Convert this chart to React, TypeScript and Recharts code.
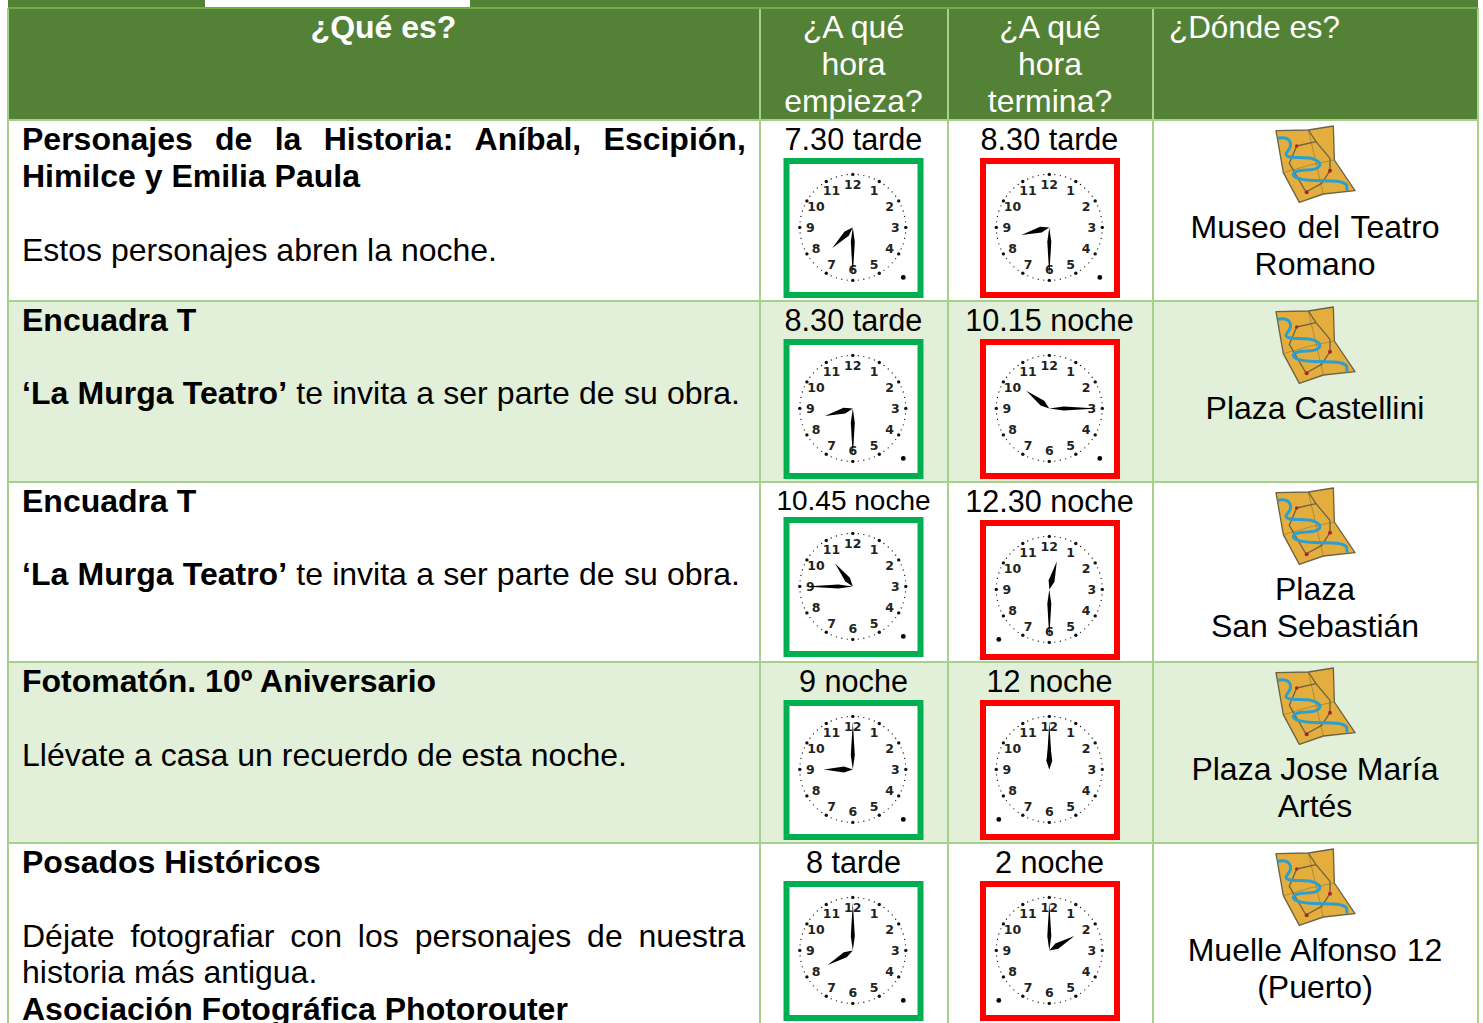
import React from 'react';
import { ScatterChart, Scatter, XAxis, YAxis, ReferenceArea, ReferenceLine } from 'recharts';

const WIDTH = 1483;
const HEIGHT = 1023;
const SANS = '"Liberation Sans", Arial, sans-serif';

// table content
const headers = [['¿Qué es?'], ['¿A qué', 'hora', 'empieza?'], ['¿A qué', 'hora', 'termina?'], ['¿Dónde es?']];
const whatLines: [string, string][][] = [
  [['Personajes de la Historia: Aníbal, Escipión,', ''], ['Himilce y Emilia Paula', ''], ['', ''], ['', 'Estos personajes abren la noche.']],
  [['Encuadra T', ''], ['', ''], ['‘La Murga Teatro’', ' te invita a ser parte de su obra.']],
  [['Encuadra T', ''], ['', ''], ['‘La Murga Teatro’', ' te invita a ser parte de su obra.']],
  [['Fotomatón. 10º Aniversario', ''], ['', ''], ['', 'Llévate a casa un recuerdo de esta noche.']],
  [['Posados Históricos', ''], ['', ''], ['', 'Déjate fotografiar con los personajes de nuestra'], ['', 'historia más antigua.'], ['Asociación Fotográfica Photorouter', '']],
];
const startLabels = ['7.30 tarde', '8.30 tarde', '10.45 noche', '9 noche', '8 tarde'];
const endLabels = ['8.30 tarde', '10.15 noche', '12.30 noche', '12 noche', '2 noche'];
const startHours = [7, 8, 10, 9, 8];
const startMinutes = [30, 30, 45, 0, 0];
const endHours = [8, 10, 12, 12, 2];
const endMinutes = [30, 15, 30, 0, 0];
const places = [['Museo del Teatro', 'Romano'], ['Plaza Castellini'], ['Plaza', 'San Sebastián'], ['Plaza Jose María', 'Artés'], ['Muelle Alfonso 12', '(Puerto)']];

// layout
const colEdges = [8, 760, 948, 1153, 1478];
const rowTops = [120, 301, 482, 662, 843];
const START_X = 853.5;
const END_X = 1050;
const PLACE_X = 1315;
const LINE = 36.8;
const wordGaps: Record<string, number> = {
  'Personajes de la Historia: Aníbal, Escipión,': 13.4,
  'Déjate fotografiar con los personajes de nuestra': 7,
  '‘La Murga Teatro’ te invita a ser parte de su obra.': 0.35,
  'Museo del Teatro': 2,
  'Muelle Alfonso 12': 1,
};
// small baseline corrections for the body lines of the first three rows
const bodyNudge = [1, -1, -1, 0, 0];
const endDotSide = [1, 1, -1, -1, -1];

const textItems: any[] = [];
headers[0].forEach((t) => textItems.push({ x: 383.5, y: 38, bold: t, fill: '#fff', anchor: 'middle' }));
headers[1].forEach((t, i) => textItems.push({ x: START_X, y: 38 + i * LINE, reg: t, fill: '#fff', anchor: 'middle' }));
headers[2].forEach((t, i) => textItems.push({ x: END_X, y: 38 + i * LINE, reg: t, fill: '#fff', anchor: 'middle' }));
textItems.push({ x: 1169, y: 38, reg: headers[3][0], fill: '#fff', anchor: 'start', size: 31.4 });
rowTops.forEach((top, r) => {
  whatLines[r].forEach(([bold, reg], i) => {
    if (bold || reg) {
      const nudge = reg && i > 1 ? bodyNudge[r] : 0;
      textItems.push({ x: 22, y: top + 30 + i * LINE + nudge, bold, reg, anchor: 'start', gap: wordGaps[bold + reg] || 0 });
    }
  });
  const tight = r === 2;
  textItems.push({ x: START_X, y: top + (tight ? 27.5 : 29.5), reg: startLabels[r], anchor: 'middle', size: tight ? 28 : 30.6 });
  textItems.push({ x: END_X - 0.5, y: top + 29.5, reg: endLabels[r], anchor: 'middle', size: 30.6 });
  places[r].forEach((t, i) => textItems.push({ x: PLACE_X, y: top + 118 + i * LINE, reg: t, anchor: 'middle', gap: wordGaps[t] || 0 }));
});

const clocks = rowTops.flatMap((top, r) => [
  { x: START_X, y: top + (r === 2 ? 105 : 108), h: startHours[r], m: startMinutes[r], color: '#00B050', side: 1 },
  { x: END_X, y: top + 108, h: endHours[r], m: endMinutes[r], color: '#FF0000', side: endDotSide[r] },
]);
const maps = rowTops.map((top) => ({ x: PLACE_X, y: top }));

const TextCell = (props: any) => {
  const { cx, cy, payload: d } = props;
  return (
    <text
      x={cx}
      y={cy}
      textAnchor={d.anchor}
      fontFamily={SANS}
      fontSize={d.size || 32}
      fill={d.fill || '#000'}
      wordSpacing={d.gap || 0}
      xmlSpace="preserve"
    >
      {d.bold ? <tspan fontWeight="bold">{d.bold}</tspan> : null}
      {d.reg ? <tspan>{d.reg}</tspan> : null}
    </text>
  );
};

const Hand = ({ angle, length, width }: { angle: number; length: number; width: number }) => (
  <polygon
    points={`0,0 ${width},${-length * 0.3} 0,${-length} ${-width},${-length * 0.3}`}
    fill="#000"
    transform={`rotate(${angle})`}
  />
);

const Clock = (props: any) => {
  const { cx, cy, payload: d } = props;
  const ticks = Array.from({ length: 60 }, (_, i) => i);
  const hours = [12, 1, 2, 3, 4, 5, 6, 7, 8, 9, 10, 11];
  const polar = (deg: number, rad: number) => [rad * Math.sin((deg * Math.PI) / 180), -rad * Math.cos((deg * Math.PI) / 180)];
  return (
    <g transform={`translate(${cx},${cy})`}>
      <rect x={-70} y={-70} width={140} height={140} fill="#fff" stroke="none" />
      <rect x={-67} y={-67} width={134} height={134} fill="#fff" stroke={d.color} strokeWidth={6} />
      <g transform="translate(-0.7,-0.6)">
        {ticks.map((i) => {
          const [x, y] = polar(i * 6, 53);
          return <circle key={i} cx={x} cy={y} r={i % 5 === 0 ? 1.7 : 0.65} fill="#111" />;
        })}
        {hours.map((n, i) => {
          const [x, y] = polar(i * 30, 42.5);
          return (
            <text key={n} x={x} y={y + 4.5} textAnchor="middle" fontFamily='"DejaVu Sans", sans-serif' fontWeight="bold" fontSize={12.5} fill="#222">
              {n}
            </text>
          );
        })}
        <circle cx={d.side * 50.5} cy={50} r={2.4} fill="#000" />
        <Hand angle={((d.h % 12) + d.m / 60) * 30} length={29} width={3} />
        <Hand angle={d.m * 6} length={48} width={2} />
      </g>
    </g>
  );
};

// folded street map icon, drawn at 3x and scaled down
const MapIcon = (props: any) => {
  const { cx, cy } = props;
  return (
    <g transform={`translate(${cx - 75},${cy}) scale(${1 / 3})`} fill="none" strokeLinejoin="round">
      <polygon points="108,32 205,30 280,18 283,120 345,212 250,222 178,247 130,158" fill="#E3AE3D" stroke="#6B6344" strokeWidth={4} />
      <path d="M130,158 L210,135 L283,120 M205,30 L250,222" stroke="#7A6A38" strokeWidth={1.5} />
      <path d="M205,30 L228,65 L270,115 M170,78 L228,65 M170,78 L148,130 L198,216 L245,190 L270,152 L270,115" stroke="#6E6440" strokeWidth={4} />
      <path d="M113,55 C150,48 162,72 142,95 C122,118 180,110 212,115 C252,124 250,148 200,150 C158,150 148,166 175,175 C220,190 300,172 320,195 L321,212" stroke="#2A9FD0" strokeWidth={9} />
      <circle cx={170} cy={78} r={5} fill="#B3202A" />
      <circle cx={270} cy={152} r={6} fill="#B3202A" />
      <circle cx={200} cy={217} r={6} fill="#B3202A" />
    </g>
  );
};

export default function App() {
  const gridColor = '#A8D08D';
  return (
    <div style={{ position: 'absolute', left: 0, top: 0, width: WIDTH, height: HEIGHT, background: '#fff' }}>
      <ScatterChart width={WIDTH} height={HEIGHT} margin={{ top: 0, right: 0, bottom: 0, left: 0 }}>
        <XAxis type="number" dataKey="x" domain={[0, WIDTH]} hide />
        <YAxis type="number" dataKey="y" domain={[0, HEIGHT]} reversed hide />

        {/* top strip left over from the previous page */}
        <ReferenceArea x1={8} x2={205} y1={0} y2={8} fill="#538135" fillOpacity={1} />
        <ReferenceArea x1={470} x2={1478} y1={0} y2={8} fill="#538135" fillOpacity={1} />
        <ReferenceArea x1={8} x2={1478} y1={8} y2={120} fill="#538135" fillOpacity={1} />
        <ReferenceArea x1={8} x2={1478} y1={rowTops[1]} y2={rowTops[2]} fill="#E2EFD9" fillOpacity={1} />
        <ReferenceArea x1={8} x2={1478} y1={rowTops[3]} y2={rowTops[4]} fill="#E2EFD9" fillOpacity={1} />

        {colEdges.map((x) => (
          <ReferenceLine key={x} segment={[{ x, y: 8 }, { x, y: HEIGHT }]} stroke={gridColor} strokeWidth={2} />
        ))}
        <ReferenceLine segment={[{ x: 8, y: 8 }, { x: 1478, y: 8 }]} stroke="#70AD47" strokeWidth={2} />
        {rowTops.map((y) => (
          <ReferenceLine key={y} segment={[{ x: 8, y }, { x: 1478, y }]} stroke={gridColor} strokeWidth={2} />
        ))}

        <Scatter data={maps} shape={MapIcon} isAnimationActive={false} />
        <Scatter data={clocks} shape={Clock} isAnimationActive={false} />
        <Scatter data={textItems} shape={TextCell} isAnimationActive={false} />
      </ScatterChart>
    </div>
  );
}
